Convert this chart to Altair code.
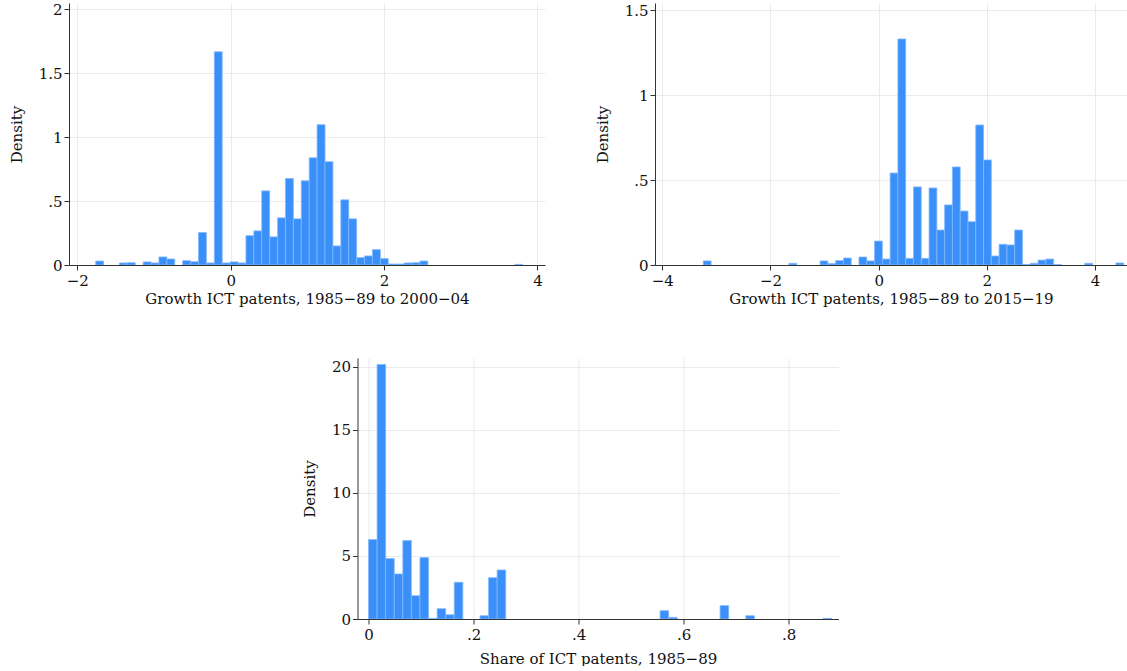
import altair as alt
import pandas as pd

FONT = "DejaVu Serif"
FILL = "#3A8FF8"
EDGE = "#80B9FF"

# Histogram densities, one value per bin (54 equal-width bins each)
growth_8589_0004_start = -1.76
growth_8589_0004_width = 0.1031
growth_8589_0004 = [
    0.031, 0, 0, 0.016, 0.018, 0, 0.024, 0.016, 0.063, 0.047,
    0, 0.034, 0.026, 0.254, 0.016, 1.668, 0.016, 0.024, 0.016, 0.230,
    0.267, 0.580, 0.220, 0.369, 0.677, 0.361, 0.659, 0.839, 1.098, 0.808,
    0.149, 0.510, 0.361, 0.058, 0.071, 0.120, 0.050, 0.008, 0.008, 0.016,
    0.018, 0.031, 0, 0, 0, 0, 0, 0, 0, 0,
    0, 0, 0, 0.005,
]

growth_8589_1519_start = -3.242
growth_8589_1519_width = 0.1439
growth_8589_1519 = [
    0.024, 0, 0, 0, 0, 0, 0, 0, 0, 0,
    0, 0.010, 0, 0, 0, 0.024, 0.008, 0.026, 0.041, 0,
    0.047, 0.024, 0.141, 0.035, 0.542, 1.332, 0.039, 0.460, 0.039, 0.454,
    0.206, 0.354, 0.578, 0.318, 0.255, 0.825, 0.619, 0.053, 0.122, 0.118,
    0.206, 0.003, 0.010, 0.029, 0.035, 0.003, 0, 0, 0, 0.010,
    0, 0, 0, 0.012,
]

share_8589_start = 0.0
share_8589_width = 0.01633
share_8589 = [
    6.30, 20.19, 4.79, 3.57, 6.22, 1.85, 4.87, 0.03, 0.82, 0.34,
    2.91, 0, 0, 0.26, 3.28, 3.89, 0, 0, 0, 0,
    0, 0, 0, 0, 0, 0, 0, 0, 0, 0,
    0, 0, 0, 0, 0.66, 0.13, 0, 0, 0, 0,
    0, 1.06, 0, 0, 0.26, 0, 0, 0, 0, 0,
    0, 0, 0, 0.05,
]


def bin_table(start, width, heights):
    rows = []
    for i, h in enumerate(heights):
        if h > 0:
            lo = start + i * width
            rows.append({"lo": lo, "hi": lo + width, "density": h, "base": 0.0})
    return pd.DataFrame(rows)


LABELS = "replace(datum.label, '0.', '.')"


def histogram(df, xdom, xticks, ydom, yticks, xtitle, w, h, xtitle_pad=3):
    return (
        alt.Chart(df)
        .mark_rect(fill=FILL, stroke=EDGE, strokeWidth=0.8, clip=True)
        .encode(
            x=alt.X(
                "lo:Q",
                scale=alt.Scale(domain=xdom, nice=False, zero=False),
                axis=alt.Axis(values=xticks, title=xtitle, format="~g",
                              labelExpr=LABELS, titlePadding=xtitle_pad),
            ),
            x2="hi:Q",
            y=alt.Y(
                "density:Q",
                scale=alt.Scale(domain=ydom, nice=False),
                axis=alt.Axis(values=yticks, title="Density", format="~g", labelExpr=LABELS),
            ),
            y2="base:Q",
        )
        .properties(width=w, height=h)
    )


top_left = histogram(
    bin_table(growth_8589_0004_start, growth_8589_0004_width, growth_8589_0004),
    [-2.108, 4.098], [-2, 0, 2, 4], [0, 2.05], [0, 0.5, 1, 1.5, 2],
    "Growth ICT patents, 1985\u221289 to 2000\u221204", 476, 262,
)

top_right = histogram(
    bin_table(growth_8589_1519_start, growth_8589_1519_width, growth_8589_1519),
    [-4.135, 4.59], [-4, -2, 0, 2, 4], [0, 1.544], [0, 0.5, 1, 1.5],
    "Growth ICT patents, 1985\u221289 to 2015\u221219", 472, 262,
)

bottom = histogram(
    bin_table(share_8589_start, share_8589_width, share_8589),
    [-0.021, 0.895], [0, 0.2, 0.4, 0.6, 0.8], [0, 20.7], [0, 5, 10, 15, 20],
    "Share of ICT patents, 1985\u221289", 481, 261, xtitle_pad=9,
)

chart = (
    alt.vconcat(
        alt.hconcat(top_left, top_right, spacing=50),
        bottom,
        spacing=52,
        center=True,
    )
    .properties(padding={"left": 9, "top": 2, "right": 0, "bottom": 0}, background="white")
    .configure_view(stroke=None)
    .configure_axis(
        labelFont=FONT,
        titleFont=FONT,
        labelFontSize=15,
        titleFontSize=15,
        titleFontWeight="normal",
        labelColor="#111111",
        titleColor="#111111",
        domainColor="#333333",
        tickColor="#333333",
        gridColor="#EBEBEB",
        gridWidth=1,
        tickSize=5,
        grid=True,
    )
    .configure_axisY(labelPadding=2, titlePadding=14)
    .configure_axisX(labelPadding=3)
)

chart.save("out.html", embed_options={"renderer": "svg", "actions": False})
